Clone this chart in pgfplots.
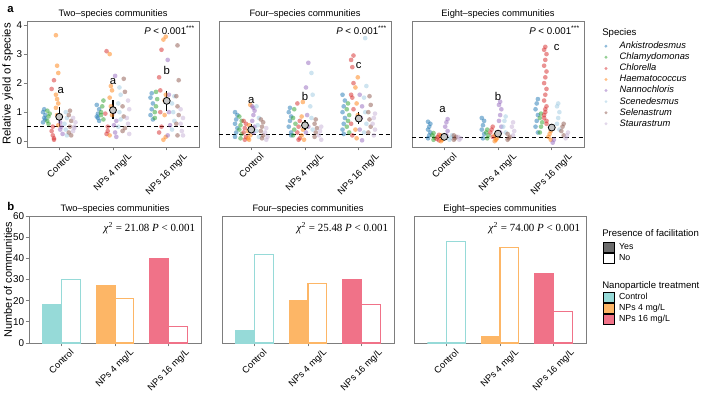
\documentclass[border=0pt]{standalone}
\usepackage{fontspec}
\setmainfont{Liberation Sans}
\newfontfamily\serifchi{Liberation Serif}
\usepackage{graphicx}
\usepackage{pgfplots}
\pgfplotsset{compat=1.18}

\definecolor{ctrl}{RGB}{150,218,216}
\definecolor{np4}{RGB}{253,182,102}
\definecolor{np16}{RGB}{240,114,136}
\definecolor{framegray}{RGB}{125,125,125}
\definecolor{spA}{RGB}{31,119,180}
\definecolor{spB}{RGB}{44,160,44}
\definecolor{spC}{RGB}{214,39,40}
\definecolor{spD}{RGB}{255,127,14}
\definecolor{spE}{RGB}{148,103,189}
\definecolor{spF}{RGB}{158,202,225}
\definecolor{spG}{RGB}{140,86,75}
\definecolor{spH}{RGB}{197,176,213}

\newcommand{\fs}[1]{\fontsize{#1}{#1}\selectfont}

% translucent species dot without an outline
\tikzset{spdot/.style={draw=#1, fill=#1, draw opacity=0, fill opacity=0.5, line width=0pt}}

\pgfplotsset{
  panel/.style={
    scale only axis,
    axis line style={framegray, line width=0.7pt},
    tick style={framegray, line width=0.6pt},
    major tick length=2.5pt, tick align=outside,
    xmin=-0.6, xmax=2.6,
    xtick={0,1,2},
    xticklabels={\rotatebox{45}{Control}, \rotatebox{45}{NPs 4 mg/L}, \rotatebox{45}{NPs 16 mg/L}},
    x tick label style={anchor=north, font=\fs{7}, inner sep=1.2pt},
    y tick label style={font=\fs{7.4}, inner sep=1pt},
    xtick pos=bottom, ytick pos=left,
    title style={font=\fs{7}, yshift=-7.3pt},
    /pgf/number format/assume math mode=true,
    clip=false,
  },
  toppanel/.style={
    panel, width=129pt, height=94.5pt,
    ymin=-0.2, ymax=4.14, ytick={0,1,2,3,4},
  },
  botpanel/.style={
    panel, width=129pt, height=95.25pt,
    ymin=0, ymax=60, ytick={0,10,...,60},
  },
  pts/.style={
    scatter, only marks, mark=*, mark size=1.75pt,
    scatter src=explicit symbolic,
    scatter/classes={
      0={spdot=spA}, 1={spdot=spB}, 2={spdot=spC}, 3={spdot=spD},
      4={spdot=spE}, 5={spdot=spF}, 6={spdot=spG}, 7={spdot=spH}},
    forget plot,
  },
  means/.style={
    forget plot, only marks, mark=*, mark size=2.6pt,
    mark options={fill=gray!45, draw=black, line width=0.6pt},
    error bars/.cd, y dir=both, y explicit,
    error bar style={line width=1.1pt, black}, error mark=none,
  },
  nullline/.style={black, line width=0.6pt, dash pattern=on 3pt off 2pt, forget plot},
  yesbar/.style={ybar, bar width=0.35, bar shift=-0.175, fill=#1, draw=#1, line width=0.8pt, forget plot},
  nobar/.style={ybar, bar width=0.35, bar shift=0.175, fill=white, draw=#1, line width=0.8pt, forget plot},
  boxlegend/.style={
    legend style={anchor=north west, draw=none, fill=none,
      font=\fs{6.6}, inner sep=0pt, row sep=0pt, nodes={inner sep=0.5pt},
      /tikz/every odd column/.append style={column sep=2.6pt}},
    legend cell align=left,
    legend image code/.code={\draw[##1] (0pt,-3.75pt) rectangle (8.25pt,3.75pt);},
  },
}

% species k sits in its own narrow column beside the treatment position t
\newcommand{\colx}{\thisrow{t}+0.08*(\thisrow{k}-3.5)+0.022*(mod(\coordindex,3)-1)}
\newcommand{\chitext}[1]{\textit{χ}\textsuperscript{2} = #1 \textit{P} < 0.001}

\begin{document}
\begin{tikzpicture}
\path[use as bounding box] (0,0) rectangle (531.75pt,295.5pt);

\node[anchor=west, font=\bfseries\fs{8.5}] at (2pt,288pt) {a};
\node[anchor=west, font=\bfseries\fs{8.5}] at (2pt,141pt) {b};

%% ---------- relative yield, two-species ----------
\begin{axis}[toppanel, at={(20.25pt,185.25pt)}, anchor=south west,
  title={Two–species communities},
  ylabel={Relative yield of species},
  ylabel style={font=\fs{8.5}, at={(axis description cs:-0.112,0.5)}, anchor=center}]
\addplot[pts] table[x expr={\colx}, y=y, meta=k, row sep=\\] {
t k y \\
0 0 0.65 \\ 0 0 0.8 \\ 0 0 0.9 \\ 0 0 1.0 \\ 0 0 1.1 \\ 0 0 0.75 \\
0 1 0.7 \\ 0 1 0.85 \\ 0 1 0.95 \\ 0 1 1.05 \\ 0 1 0.6 \\
0 2 2.1 \\ 0 2 1.8 \\ 0 2 0.2 \\ 0 2 0.1 \\ 0 2 0.35 \\ 0 2 0.5 \\ 0 2 0.05 \\
0 3 3.65 \\ 0 3 2.6 \\ 0 3 2.35 \\ 0 3 1.6 \\ 0 3 1.45 \\ 0 3 1.3 \\ 0 3 1.15 \\ 0 3 0.9 \\ 0 3 0.55 \\
0 4 0.4 \\ 0 4 0.5 \\ 0 4 0.25 \\ 0 4 0.65 \\
0 5 1.0 \\ 0 5 0.8 \\ 0 5 0.6 \\ 0 5 0.4 \\ 0 5 0.2 \\
0 6 0.3 \\ 0 6 0.5 \\ 0 6 0.7 \\ 0 6 0.9 \\ 0 6 1.05 \\ 0 6 0.2 \\
0 7 0.35 \\ 0 7 0.5 \\ 0 7 0.65 \\ 0 7 0.8 \\ 0 7 0.45 \\
1 0 0.7 \\ 1 0 0.85 \\ 1 0 0.95 \\ 1 0 1.1 \\ 1 0 1.25 \\ 1 0 0.8 \\
1 1 0.75 \\ 1 1 1.0 \\ 1 1 1.2 \\ 1 1 1.4 \\ 1 1 0.9 \\
1 2 3.1 \\ 1 2 0.5 \\ 1 2 0.95 \\ 1 2 0.25 \\ 1 2 0.35 \\
1 3 3.0 \\ 1 3 1.9 \\ 1 3 1.75 \\ 1 3 1.5 \\ 1 3 1.2 \\ 1 3 0.9 \\ 1 3 0.2 \\
1 4 2.25 \\ 1 4 0.7 \\ 1 4 0.55 \\ 1 4 0.3 \\ 1 4 0.15 \\ 1 4 1.0 \\
1 5 1.85 \\ 1 5 1.6 \\ 1 5 1.3 \\ 1 5 1.0 \\ 1 5 0.75 \\ 1 5 0.5 \\
1 6 2.15 \\ 1 6 1.7 \\ 1 6 1.2 \\ 1 6 0.85 \\ 1 6 0.45 \\ 1 6 0.35 \\
1 7 1.4 \\ 1 7 1.1 \\ 1 7 0.8 \\ 1 7 0.6 \\ 1 7 0.25 \\
2 0 0.9 \\ 2 0 1.1 \\ 2 0 1.3 \\ 2 0 1.5 \\ 2 0 1.65 \\ 2 0 0.75 \\
2 1 1.0 \\ 2 1 1.2 \\ 2 1 1.45 \\ 2 1 0.8 \\ 2 1 1.7 \\
2 2 3.15 \\ 2 2 2.2 \\ 2 2 1.75 \\ 2 2 0.5 \\ 2 2 0.3 \\ 2 2 1.0 \\
2 3 3.6 \\ 2 3 3.5 \\ 2 3 1.4 \\ 2 3 0.15 \\ 2 3 0.05 \\ 2 3 0.9 \\ 2 3 1.6 \\
2 4 2.8 \\ 2 4 1.6 \\ 2 4 0.55 \\ 2 4 0.2 \\ 2 4 1.0 \\
2 5 1.55 \\ 2 5 1.3 \\ 2 5 1.0 \\ 2 5 0.7 \\ 2 5 0.4 \\
2 6 3.3 \\ 2 6 2.1 \\ 2 6 1.55 \\ 2 6 1.2 \\ 2 6 0.9 \\ 2 6 0.6 \\ 2 6 0.2 \\
2 7 0.8 \\ 2 7 0.6 \\ 2 7 0.35 \\ 2 7 0.2 \\ 2 7 1.1 \\
};
\addplot[nullline] coordinates {(-0.6,0.5) (2.6,0.5)};
\addplot[means] table[y error plus=ep, y error minus=em] {
x y ep em
0 0.84 0.33 0.36
1 1.07 0.36 0.32
2 1.39 0.34 0.35
};
\node[font=\fs{8.5}] at (axis cs:0.03,1.73) {a};
\node[font=\fs{8.5}] at (axis cs:1,2.07) {a};
\node[font=\fs{8.5}] at (axis cs:2,2.43) {b};
\node[anchor=north east, font=\fs{7.3}, inner sep=1pt] at (rel axis cs:0.985,0.975) {\textit{P} < 0.001\textsuperscript{***}};
\end{axis}

%% ---------- relative yield, four-species ----------
\begin{axis}[toppanel, at={(164.25pt,185.25pt)}, anchor=south west,
  title={Four–species communities}, ytick=\empty]
\addplot[pts] table[x expr={\colx}, y=y, meta=k, row sep=\\] {
t k y \\
0 0 0.15 \\ 0 0 0.3 \\ 0 0 0.45 \\ 0 0 0.6 \\ 0 0 0.75 \\ 0 0 0.9 \\ 0 0 1.0 \\
0 1 0.1 \\ 0 1 0.25 \\ 0 1 0.4 \\ 0 1 0.55 \\ 0 1 0.7 \\ 0 1 0.85 \\
0 2 0.05 \\ 0 2 0.15 \\ 0 2 0.3 \\ 0 2 0.45 \\ 0 2 0.6 \\ 0 2 0.7 \\
0 3 0.05 \\ 0 3 0.2 \\ 0 3 0.35 \\ 0 3 0.55 \\ 0 3 1.25 \\ 0 3 0.1 \\
0 4 0.3 \\ 0 4 0.5 \\ 0 4 0.7 \\ 0 4 0.9 \\ 0 4 1.05 \\ 0 4 1.2 \\ 0 4 1.15 \\
0 5 0.15 \\ 0 5 0.35 \\ 0 5 0.55 \\ 0 5 0.8 \\ 0 5 1.2 \\
0 6 0.1 \\ 0 6 0.2 \\ 0 6 0.35 \\ 0 6 0.5 \\ 0 6 0.65 \\ 0 6 0.75 \\
0 7 0.05 \\ 0 7 0.15 \\ 0 7 0.3 \\ 0 7 0.45 \\
1 0 0.3 \\ 1 0 0.5 \\ 1 0 0.7 \\ 1 0 0.85 \\ 1 0 1.0 \\ 1 0 1.15 \\ 1 0 0.2 \\
1 1 0.2 \\ 1 1 0.4 \\ 1 1 0.6 \\ 1 1 0.8 \\ 1 1 1.1 \\
1 2 0.1 \\ 1 2 0.3 \\ 1 2 0.5 \\ 1 2 0.7 \\ 1 2 1.3 \\ 1 2 0.05 \\
1 3 0.05 \\ 1 3 0.2 \\ 1 3 0.4 \\ 1 3 0.6 \\ 1 3 0.85 \\ 1 3 1.35 \\
1 4 2.7 \\ 1 4 1.85 \\ 1 4 0.9 \\ 1 4 0.5 \\ 1 4 0.3 \\
1 5 2.35 \\ 1 5 1.6 \\ 1 5 1.2 \\ 1 5 0.8 \\ 1 5 0.4 \\
1 6 0.15 \\ 1 6 0.3 \\ 1 6 0.45 \\ 1 6 0.6 \\ 1 6 0.75 \\
1 7 0.05 \\ 1 7 0.2 \\ 1 7 0.35 \\ 1 7 0.5 \\
2 0 0.4 \\ 2 0 0.6 \\ 2 0 0.8 \\ 2 0 1.0 \\ 2 0 1.2 \\ 2 0 1.4 \\ 2 0 1.6 \\ 2 0 0.25 \\
2 1 0.3 \\ 2 1 0.5 \\ 2 1 0.7 \\ 2 1 0.9 \\ 2 1 1.1 \\ 2 1 1.3 \\
2 2 2.95 \\ 2 2 2.8 \\ 2 2 2.55 \\ 2 2 2.0 \\ 2 2 1.6 \\ 2 2 1.5 \\ 2 2 1.1 \\ 2 2 0.6 \\ 2 2 0.2 \\
2 3 2.2 \\ 2 3 1.85 \\ 2 3 1.3 \\ 2 3 0.9 \\ 2 3 0.4 \\ 2 3 0.1 \\
2 4 0.03 \\ 2 4 0.4 \\ 2 4 0.8 \\ 2 4 1.2 \\ 2 4 1.6 \\
2 5 3.55 \\ 2 5 1.9 \\ 2 5 1.5 \\ 2 5 1.0 \\ 2 5 0.6 \\ 2 5 0.3 \\
2 6 1.55 \\ 2 6 1.25 \\ 2 6 1.0 \\ 2 6 0.75 \\ 2 6 0.5 \\ 2 6 0.3 \\
2 7 0.2 \\ 2 7 0.4 \\ 2 7 0.6 \\ 2 7 0.8 \\ 2 7 0.95 \\
};
\addplot[nullline] coordinates {(-0.6,0.25) (2.6,0.25)};
\addplot[means] table[y error plus=ep, y error minus=em] {
x y ep em
0 0.40 0.18 0.12
1 0.55 0.18 0.16
2 0.78 0.22 0.20
};
\node[font=\fs{8.5}] at (axis cs:0,1.41) {a};
\node[font=\fs{8.5}] at (axis cs:1,1.55) {b};
\node[font=\fs{8.5}] at (axis cs:2,2.6) {c};
\node[anchor=north east, font=\fs{7.3}, inner sep=1pt] at (rel axis cs:0.985,0.975) {\textit{P} < 0.001\textsuperscript{***}};
\end{axis}

%% ---------- relative yield, eight-species ----------
\begin{axis}[toppanel, at={(309pt,185.25pt)}, anchor=south west,
  title={Eight–species communities}, ytick=\empty,
  legend style={at={(1.103,0.85)}, anchor=north west, draw=none, fill=none,
    font=\fs{7}\itshape, inner sep=0pt, row sep=-0.6pt,
    nodes={inner sep=1.2pt}},
  legend cell align=left,
  legend image code/.code={\path[draw=none, fill=none] (0pt,-1pt) rectangle (12pt,1pt);
    \fill[#1, draw=none] (3pt,0pt) circle (1.2pt);}]
\addlegendimage{spA, fill opacity=0.5}\addlegendentry{Ankistrodesmus}
\addlegendimage{spB, fill opacity=0.5}\addlegendentry{Chlamydomonas}
\addlegendimage{spC, fill opacity=0.5}\addlegendentry{Chlorella}
\addlegendimage{spD, fill opacity=0.5}\addlegendentry{Haematococcus}
\addlegendimage{spE, fill opacity=0.5}\addlegendentry{Nannochloris}
\addlegendimage{spF, fill opacity=0.5}\addlegendentry{Scenedesmus}
\addlegendimage{spG, fill opacity=0.5}\addlegendentry{Selenastrum}
\addlegendimage{spH, fill opacity=0.5}\addlegendentry{Staurastrum}
\addplot[pts] table[x expr={\colx}, y=y, meta=k, row sep=\\] {
t k y \\
0 0 0.1 \\ 0 0 0.2 \\ 0 0 0.3 \\ 0 0 0.4 \\ 0 0 0.5 \\ 0 0 0.6 \\ 0 0 0.67 \\
0 1 0.05 \\ 0 1 0.12 \\ 0 1 0.2 \\ 0 1 0.28 \\
0 2 0.03 \\ 0 2 0.08 \\ 0 2 0.15 \\ 0 2 0.22 \\
0 3 0.0 \\ 0 3 0.05 \\ 0 3 0.12 \\ 0 3 0.2 \\
0 4 0.2 \\ 0 4 0.35 \\ 0 4 0.5 \\ 0 4 0.65 \\ 0 4 0.76 \\
0 5 0.05 \\ 0 5 0.12 \\ 0 5 0.2 \\
0 6 0.05 \\ 0 6 0.1 \\ 0 6 0.15 \\ 0 6 0.2 \\
0 7 0.05 \\ 0 7 0.1 \\ 0 7 0.15 \\
1 0 0.1 \\ 1 0 0.25 \\ 1 0 0.4 \\ 1 0 0.55 \\ 1 0 0.7 \\ 1 0 0.8 \\
1 1 0.1 \\ 1 1 0.2 \\ 1 1 0.3 \\ 1 1 0.4 \\
1 2 0.15 \\ 1 2 0.3 \\ 1 2 0.4 \\ 1 2 0.5 \\
1 3 0.0 \\ 1 3 0.05 \\ 1 3 0.1 \\ 1 3 0.2 \\
1 4 0.3 \\ 1 4 0.5 \\ 1 4 0.7 \\ 1 4 0.9 \\ 1 4 1.1 \\ 1 4 1.25 \\ 1 4 1.36 \\
1 5 0.3 \\ 1 5 0.5 \\ 1 5 0.7 \\ 1 5 0.85 \\
1 6 0.05 \\ 1 6 0.1 \\ 1 6 0.15 \\ 1 6 0.25 \\
1 7 0.2 \\ 1 7 0.35 \\ 1 7 0.5 \\ 1 7 0.65 \\
2 0 0.3 \\ 2 0 0.5 \\ 2 0 0.7 \\ 2 0 0.9 \\ 2 0 1.1 \\ 2 0 1.3 \\ 2 0 1.45 \\
2 1 0.3 \\ 2 1 0.5 \\ 2 1 0.65 \\ 2 1 0.8 \\ 2 1 0.95 \\
2 2 0.6 \\ 2 2 0.8 \\ 2 2 1.0 \\ 2 2 1.2 \\ 2 2 1.4 \\ 2 2 1.6 \\ 2 2 1.8 \\ 2 2 2.0 \\ 2 2 2.2 \\
2 2 2.4 \\ 2 2 2.6 \\ 2 2 2.8 \\ 2 2 3.0 \\ 2 2 3.15 \\ 2 2 3.25 \\ 2 2 0.7 \\ 2 2 0.9 \\ 2 2 1.1 \\
2 3 0.05 \\ 2 3 0.15 \\ 2 3 0.25 \\ 2 3 0.35 \\
2 4 -0.05 \\ 2 4 0.05 \\
2 5 0.4 \\ 2 5 0.6 \\ 2 5 0.8 \\ 2 5 1.0 \\ 2 5 1.2 \\ 2 5 1.3 \\
2 6 0.2 \\ 2 6 0.35 \\ 2 6 0.5 \\ 2 6 0.6 \\
2 7 0.1 \\ 2 7 0.2 \\ 2 7 0.3 \\
};
\addplot[nullline] coordinates {(-0.6,0.125) (2.6,0.125)};
\addplot[means] table[y error plus=ep, y error minus=em] {
x y ep em
0 0.15 0.05 0.05
1 0.26 0.14 0.13
2 0.47 0.13 0.12
};
\node[font=\fs{8.5}] at (axis cs:-0.03,1.1) {a};
\node[font=\fs{8.5}] at (axis cs:1,1.53) {b};
\node[font=\fs{8.5}] at (axis cs:2.09,3.24) {c};
\node[anchor=north east, font=\fs{7.3}, inner sep=1pt] at (rel axis cs:0.985,0.975) {\textit{P} < 0.001\textsuperscript{***}};
\end{axis}
\node[anchor=west, font=\fs{7.2}, inner sep=0pt] at (451.5pt,270.5pt) {Species};

%% ---------- facilitation counts, two-species ----------
\begin{axis}[botpanel, at={(21.75pt,38.25pt)}, anchor=south west,
  title={Two–species communities},
  ylabel={Number of communities},
  ylabel style={font=\fs{8.2}, at={(axis description cs:-0.122,0.5)}, anchor=center}]
\addplot[yesbar=ctrl] coordinates {(0,18)};
\addplot[nobar=ctrl] coordinates {(0,30)};
\addplot[yesbar=np4] coordinates {(1,27)};
\addplot[nobar=np4] coordinates {(1,21)};
\addplot[yesbar=np16] coordinates {(2,40)};
\addplot[nobar=np16] coordinates {(2,8)};
\node[anchor=north east, font=\serifchi\fs{8.2}, inner sep=1pt] at (rel axis cs:0.975,0.96) {\chitext{21.08}};
\end{axis}

%% ---------- facilitation counts, four-species ----------
\begin{axis}[botpanel, at={(166.5pt,38.25pt)}, anchor=south west,
  title={Four–species communities}, ytick=\empty,
  boxlegend, legend style={at={(2.215,0.795)}}]
\addlegendimage{fill=gray!85!black, draw=black, line width=0.5pt}\addlegendentry{Yes}
\addlegendimage{fill=white, draw=black, line width=0.5pt}\addlegendentry{No}
\addplot[yesbar=ctrl] coordinates {(0,6)};
\addplot[nobar=ctrl] coordinates {(0,42)};
\addplot[yesbar=np4] coordinates {(1,20)};
\addplot[nobar=np4] coordinates {(1,28)};
\addplot[yesbar=np16] coordinates {(2,30)};
\addplot[nobar=np16] coordinates {(2,18)};
\node[anchor=north east, font=\serifchi\fs{8.2}, inner sep=1pt] at (rel axis cs:0.975,0.96) {\chitext{25.48}};
\end{axis}

%% ---------- facilitation counts, eight-species ----------
\begin{axis}[botpanel, at={(310.5pt,38.25pt)}, anchor=south west,
  title={Eight–species communities}, ytick=\empty,
  boxlegend, legend style={at={(1.099,0.402)}}]
\addlegendimage{fill=ctrl, draw=black, line width=0.5pt}\addlegendentry{Control}
\addlegendimage{fill=np4, draw=black, line width=0.5pt}\addlegendentry{NPs 4 mg/L}
\addlegendimage{fill=np16, draw=black, line width=0.5pt}\addlegendentry{NPs 16 mg/L}
\addplot[yesbar=ctrl] coordinates {(0,0)};
\addplot[nobar=ctrl] coordinates {(0,48)};
\addplot[yesbar=np4] coordinates {(1,3)};
\addplot[nobar=np4] coordinates {(1,45)};
\addplot[yesbar=np16] coordinates {(2,33)};
\addplot[nobar=np16] coordinates {(2,15)};
\node[anchor=north east, font=\serifchi\fs{8.2}, inner sep=1pt] at (rel axis cs:0.975,0.96) {\chitext{74.00}};
\end{axis}
\node[anchor=west, font=\fs{7.2}, inner sep=0pt] at (451.5pt,120.75pt) {Presence of facilitation};
\node[anchor=west, font=\fs{7.2}, inner sep=0pt] at (451.5pt,81.2pt) {Nanoparticle treatment};
\end{tikzpicture}
\end{document}
